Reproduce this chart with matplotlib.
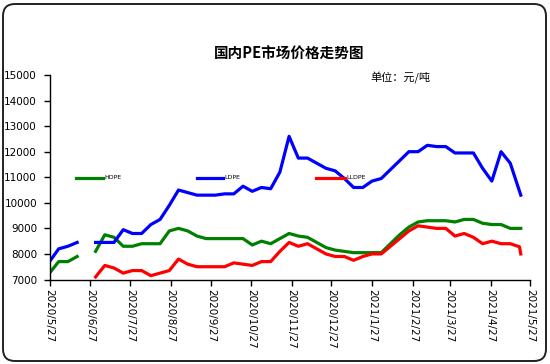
import numpy as np
import pandas as pd
import matplotlib
matplotlib.use("Agg")
import matplotlib.pyplot as plt
import matplotlib.dates as mdates
from matplotlib.patches import FancyBboxPatch
from matplotlib.lines import Line2D
from matplotlib.ticker import FuncFormatter

plt.rcParams['font.family'] = ['Noto Sans CJK SC', 'DejaVu Sans']

nan = np.nan
# weekly observation dates
dates = list(pd.date_range('2020-05-27', periods=51, freq='7D')) + [pd.Timestamp('2021-05-20')]
lldpe_dates = dates[:51] + [pd.Timestamp('2021-05-19'), pd.Timestamp('2021-05-20')]

hdpe = [7250, 7700, 7700, 7900, nan, 8100, 8750, 8650, 8300, 8300,
        8400, 8400, 8400, 8900, 9000, 8900, 8700, 8600, 8600, 8600,
        8600, 8600, 8350, 8500, 8400, 8600, 8800, 8700, 8650, 8450,
        8250, 8150, 8100, 8050, 8050, 8050, 8050, 8400, 8750, 9050,
        9250, 9300, 9300, 9300, 9250, 9350, 9350, 9200, 9150, 9150,
        9000, 9000]
ldpe = [7700, 8200, 8300, 8450, nan, 8450, 8450, 8450, 8950, 8800,
        8800, 9150, 9350, 9900, 10500, 10400, 10300, 10300, 10300, 10350,
        10350, 10650, 10450, 10600, 10550, 11200, 12600, 11750, 11750, 11550,
        11350, 11250, 10950, 10600, 10600, 10850, 10950, 11300, 11650, 12000,
        12000, 12250, 12200, 12200, 11950, 11950, 11950, 11350, 10850, 12000,
        11550, 10300]
lldpe = [nan, nan, nan, nan, nan, 7100, 7550, 7450, 7250, 7350,
         7350, 7150, 7250, 7350, 7800, 7600, 7500, 7500, 7500, 7500,
         7650, 7600, 7550, 7700, 7700, 8100, 8450, 8300, 8400, 8200,
         8000, 7900, 7900, 7750, 7900, 8000, 8000, 8300, 8600, 8900,
         9100, 9050, 9000, 9000, 8700, 8800, 8650, 8400, 8500, 8400,
         8400, 8280, 8000]

series_names = ['HDPE', 'LDPE', 'LLDPE']
title = '国内PE市场价格走势图'
unit = '单位：元/吨'
yticks = [7000, 8000, 9000, 10000, 11000, 12000, 13000, 14000, 15000]
xtick_dates = pd.date_range('2020-05-27', periods=13, freq=pd.DateOffset(months=1))

W, H = 550, 364
fig = plt.figure(figsize=(W / 100, H / 100), dpi=100)
fig.patch.set_facecolor('white')

# rounded outer frame
frame = FancyBboxPatch((3, 3), W - 7, H - 7, boxstyle="round,pad=0,rounding_size=12",
                       transform=None, facecolor='none', edgecolor='#222222', linewidth=1.4)
fig.patches.append(frame)

ax = fig.add_axes([49.5 / W, (H - 279.5) / H, (530 - 49.5) / W, (279.5 - 75) / H])
ax.set_facecolor('none')

lw = 2.3
ax.plot(dates, hdpe, color='#008000', lw=lw, solid_joinstyle='round')
ax.plot(dates, ldpe, color='#0000FF', lw=lw, solid_joinstyle='round')
ax.plot(lldpe_dates, lldpe, color='#FF0000', lw=lw, solid_joinstyle='round')

ax.set_ylim(7000, 15000)
ax.set_yticks(yticks)
ax.set_xlim(xtick_dates[0], xtick_dates[-1])
ax.set_xticks(xtick_dates)
ax.xaxis.set_major_formatter(FuncFormatter(
    lambda v, p: (lambda d: f"{d.year}/{d.month}/{d.day}")(mdates.num2date(v))))
for lab in ax.get_xticklabels():
    lab.set_rotation(-90)
    lab.set_va('top')
    lab.set_ha('center')

for s in ['top', 'right']:
    ax.spines[s].set_visible(False)
for s in ['left', 'bottom']:
    ax.spines[s].set_linewidth(1.0)
    ax.spines[s].set_color('black')
ax.tick_params(axis='both', direction='out', length=4, width=1.0, labelsize=7.5,
               colors='black', pad=2.5)
ax.tick_params(axis='y', pad=5)
for lab in ax.get_xticklabels() + ax.get_yticklabels():
    lab.set_family('DejaVu Sans')

# title & unit
fig.text(289 / W, 1 - 54 / H, title, ha='center', va='center', fontsize=10.5,
         fontweight='bold')
fig.text(400 / W, 1 - 78 / H, unit, ha='center', va='center', fontsize=8)

# legend entries
legend_pos = [(76, 103), (197, 223), (316, 345)]
colors = ['#008000', '#0000FF', '#FF0000']
ly = 1 - 177.5 / H
for (x0, x1), c, name in zip(legend_pos, colors, series_names):
    fig.add_artist(Line2D([x0 / W, x1 / W], [ly, ly], color=c, lw=lw,
                          transform=fig.transFigure))
    fig.text((x1 + 1.5) / W, ly, name, ha='left', va='center', fontsize=4.5,
             family='DejaVu Sans')

fig.savefig('out.png', dpi=100, facecolor='white')
